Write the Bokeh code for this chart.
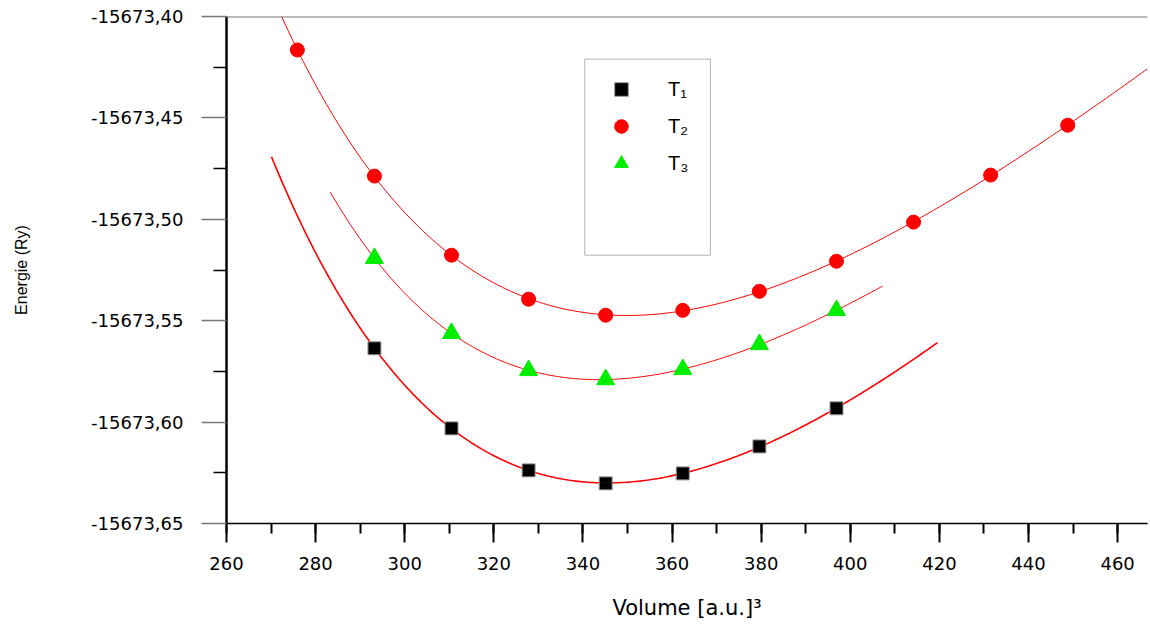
import numpy as np
from bokeh.plotting import figure
from bokeh.models import (Range1d, LinearAxis, FixedTicker, SingleIntervalTicker,
                          CustomJSTickFormatter, Legend, LegendItem, BoxAnnotation, Span)
from bokeh.embed import file_html
from bokeh.resources import INLINE

# ---- data ----
vol_t1 = [293.2, 310.5, 327.8, 345.1, 362.4, 379.6, 396.9]
e_t1 = [-15673.5636, -15673.6031, -15673.6238, -15673.6302, -15673.6253, -15673.6120, -15673.5932]

vol_t2 = [275.9, 293.2, 310.5, 327.8, 345.1, 362.4, 379.6, 396.9, 414.2, 431.5, 448.8]
e_t2 = [-15673.4165, -15673.4787, -15673.5177, -15673.5394, -15673.5473, -15673.5449,
        -15673.5355, -15673.5207, -15673.5014, -15673.4782, -15673.4536]

vol_t3 = [293.2, 310.5, 327.8, 345.1, 362.4, 379.6, 396.9]
e_t3 = [-15673.5192, -15673.5562, -15673.5745, -15673.5790, -15673.5740, -15673.5617, -15673.5449]

# extent of each fitted curve (volume)
fit_t1 = [270.1, 419.6]
fit_t2 = [270.0, 466.7]
fit_t3 = [283.3, 407.2]

y_major = [-15673.65, -15673.60, -15673.55, -15673.50, -15673.45, -15673.40]
y_minor = [-15673.625, -15673.575, -15673.525, -15673.475, -15673.425]

labels = ["T\u2081", "T\u2082", "T\u2083"]

TICKFONT = "DejaVu Sans"

p = figure(width=1148, height=624, output_backend="svg", toolbar_location=None,
           x_range=Range1d(260, 466.7), y_range=Range1d(-15673.65, -15673.40),
           min_border_left=226, min_border_right=1, min_border_top=16, min_border_bottom=101,
           x_axis_location=None, y_axis_location=None)
p.outline_line_color = None
p.grid.visible = False
p.background_fill_color = "white"

# axes
xax = LinearAxis(ticker=SingleIntervalTicker(interval=20, num_minor_ticks=2))
xax.axis_label = "Volume [a.u.]\u00b3"
xax.axis_label_text_font = "DejaVu Sans"
xax.axis_label_text_font_style = "normal"
xax.axis_label_text_font_size = "21px"
xax.axis_label_text_color = "black"
xax.axis_label_standoff = 23
xax.major_label_text_font = TICKFONT
xax.major_label_text_font_size = "18px"
xax.major_label_text_color = "black"
xax.major_label_standoff = 14
xax.major_tick_out = 19
xax.major_tick_in = 0
xax.minor_tick_out = 10
xax.minor_tick_in = 0
xax.major_tick_line_width = 2
xax.minor_tick_line_width = 2
xax.axis_line_width = 1.5
p.add_layout(xax, "below")

yax = LinearAxis(ticker=FixedTicker(ticks=y_major, minor_ticks=y_minor))
yax.formatter = CustomJSTickFormatter(code="return tick.toFixed(2).replace('.', ',');")
yax.axis_label = "Energie (Ry)"
yax.axis_label_text_font = "Liberation Sans"
yax.axis_label_text_font_style = "normal"
yax.axis_label_text_font_size = "16px"
yax.axis_label_text_color = "black"
yax.axis_label_standoff = 58
yax.major_label_text_font = TICKFONT
yax.major_label_text_font_size = "18px"
yax.major_label_text_color = "black"
yax.major_label_standoff = 18
yax.major_tick_out = 25
yax.major_tick_in = 0
yax.major_tick_line_color = "#777777"
yax.major_tick_line_width = 1.5
yax.minor_tick_out = 13
yax.minor_tick_in = 0
yax.minor_tick_line_width = 1.5
yax.axis_line_width = 2.5
p.add_layout(yax, "left")

# top frame line
p.add_layout(Span(location=-15673.40, dimension="width", line_color="#777777", line_width=2))

# fitted curves: Birch-Murnaghan (cubic in V^-2/3) least-squares fit of each series
for vx, ey, rng, lw in [(vol_t1, e_t1, fit_t1, 1.6), (vol_t2, e_t2, fit_t2, 1.0), (vol_t3, e_t3, fit_t3, 1.0)]:
    u = np.array(vx) ** (-2.0 / 3.0) * 100.0
    c = np.polyfit(u, np.array(ey) + 15673.0, 3)
    xs = np.linspace(rng[0], rng[1], 300)
    ys = np.polyval(c, xs ** (-2.0 / 3.0) * 100.0) - 15673.0
    p.line(xs, ys, line_color="red", line_width=lw)

r1 = p.scatter(vol_t1, e_t1, marker="square", size=13, fill_color="black", line_color="#999999", line_width=1)
r2 = p.scatter(vol_t2, e_t2, marker="circle", size=14, fill_color="red", line_color="red")
r3 = p.scatter(vol_t3, e_t3, marker="triangle", size=18, fill_color="#00ee00", line_color="#00ee00")

# legend frame
box = BoxAnnotation(left=340.4, right=368.6, top=-15673.4210, bottom=-15673.5177,
                    fill_alpha=0, line_color="black", line_width=1)
p.add_layout(box)

legend = Legend(items=[LegendItem(label=labels[0], renderers=[r1]),
                       LegendItem(label=labels[1], renderers=[r2]),
                       LegendItem(label=labels[2], renderers=[r3])],
                location=(368, 333), orientation="vertical",
                background_fill_alpha=0, border_line_alpha=0,
                label_text_font="Liberation Sans", label_text_font_size="20px",
                label_text_color="black",
                label_standoff=30, spacing=3, padding=10,
                glyph_width=34, glyph_height=34, label_height=34)
p.add_layout(legend, "center")

open("out.html", "w").write(file_html(p, INLINE))
